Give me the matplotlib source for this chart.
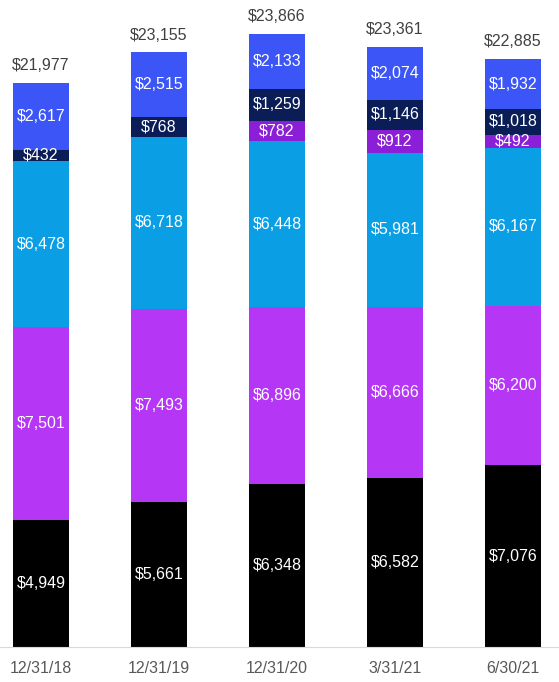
import numpy as np
import matplotlib.pyplot as plt

plt.rcParams['font.family'] = ['Liberation Sans', 'DejaVu Sans']

dates = ['12/31/18', '12/31/19', '12/31/20', '3/31/21', '6/30/21']

# stacked from the bottom up
seg_black = [4949, 5661, 6348, 6582, 7076]
seg_purple = [7501, 7493, 6896, 6666, 6200]
seg_lightblue = [6478, 6718, 6448, 5981, 6167]
seg_violet = [0, 0, 782, 912, 492]
seg_navy = [432, 768, 1259, 1146, 1018]
seg_blue = [2617, 2515, 2133, 2074, 1932]

series = [seg_black, seg_purple, seg_lightblue, seg_violet, seg_navy, seg_blue]
colors = ['#000000', '#b536f5', '#0a9fe4', '#8b1fd8', '#0a1d57', '#3b55f6']

fig = plt.figure(figsize=(5.59, 6.82), dpi=100)
ax = fig.add_axes([0, 0.0513, 1, 0.934])

x = np.arange(len(dates))
bottom = np.zeros(len(dates))
for vals, c in zip(series, colors):
    vals = np.array(vals, dtype=float)
    ax.bar(x, vals, 0.48, bottom=bottom, color=c)
    for xi, v, b in zip(x, vals, bottom):
        if v > 0:
            ax.text(xi, b + v / 2, f'${v:,.0f}', ha='center', va='center',
                    color='white', fontsize=11.5)
    bottom += vals

for xi, tot in zip(x, bottom):
    ax.text(xi, tot + 380, f'${tot:,.0f}', ha='center', va='bottom',
            color='#404040', fontsize=11.5)

ax.set_xlim(-0.347, 4.39)
ax.set_ylim(0, 24800)
ax.set_xticks(x)
ax.set_xticklabels(dates, color='#595959', fontsize=11.5)
ax.tick_params(axis='x', length=0, pad=10)
ax.set_yticks([])
for s in ['top', 'left', 'right']:
    ax.spines[s].set_visible(False)
ax.spines['bottom'].set_color('#d9d9d9')

fig.savefig('out.png', dpi=100)
